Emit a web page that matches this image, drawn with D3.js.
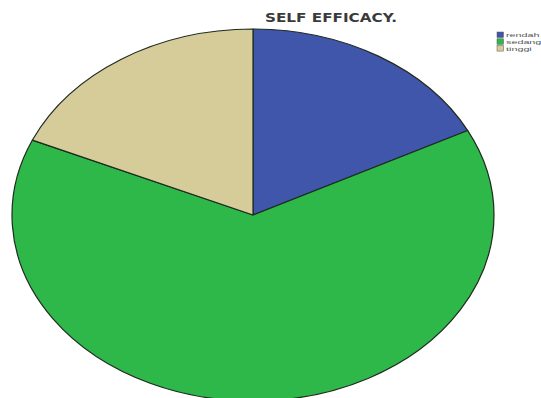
<!DOCTYPE html>
<html>
<head>
<meta charset="utf-8">
<script src="https://cdn.jsdelivr.net/npm/d3@7"></script>
<style>
  html, body { margin: 0; padding: 0; background: #fff; }
  svg { display: block; }
</style>
</head>
<body>
<svg id="chart" width="541" height="398"></svg>
<script>
const categories = ["rendah", "sedang", "tinggi"];
const values = [17.5, 64.1, 18.4];
const colors = ["#3F56AA", "#2EB84A", "#D5CC9A"];
const title = "SELF EFFICACY.";

const svg = d3.select("#chart");
const cx = 253, cy = 215, rx = 241, ry = 186;

const data = categories.map((c, i) => ({ name: c, value: values[i], color: colors[i] }));
const pie = d3.pie().value(d => d.value).sort(null);
const arc = d3.arc().innerRadius(0).outerRadius(ry);

const g = svg.append("g")
  .attr("transform", `translate(${cx},${cy}) scale(${rx / ry},1)`);

g.selectAll("path")
  .data(pie(data))
  .join("path")
  .attr("d", arc)
  .attr("fill", d => d.data.color)
  .attr("stroke", "#1f2a1f")
  .attr("stroke-width", 1.2)
  .attr("vector-effect", "non-scaling-stroke")
  .attr("stroke-linejoin", "round");

svg.append("text")
  .attr("x", 331)
  .attr("y", 22)
  .attr("text-anchor", "middle")
  .attr("font-family", "DejaVu Sans, Liberation Sans, sans-serif")
  .attr("font-weight", "bold")
  .attr("font-size", 11.5)
  .attr("textLength", 132)
  .attr("lengthAdjust", "spacingAndGlyphs")
  .attr("fill", "#3a3a3a")
  .text(title);

const legend = svg.append("g").attr("transform", "translate(497,32)");
const item = legend.selectAll("g")
  .data(data)
  .join("g")
  .attr("transform", (d, i) => `translate(0,${i * 6.8})`);
item.append("rect")
  .attr("width", 6.5).attr("height", 5.5)
  .attr("fill", d => d.color)
  .attr("stroke", "#555").attr("stroke-width", 0.5);
item.append("text")
  .attr("transform", "translate(9,5.3) scale(1.8,1)")
  .attr("font-family", "Liberation Sans, Arial, sans-serif")
  .attr("font-size", 6)
  .attr("fill", "#555")
  .text(d => d.name);
</script>
</body>
</html>
